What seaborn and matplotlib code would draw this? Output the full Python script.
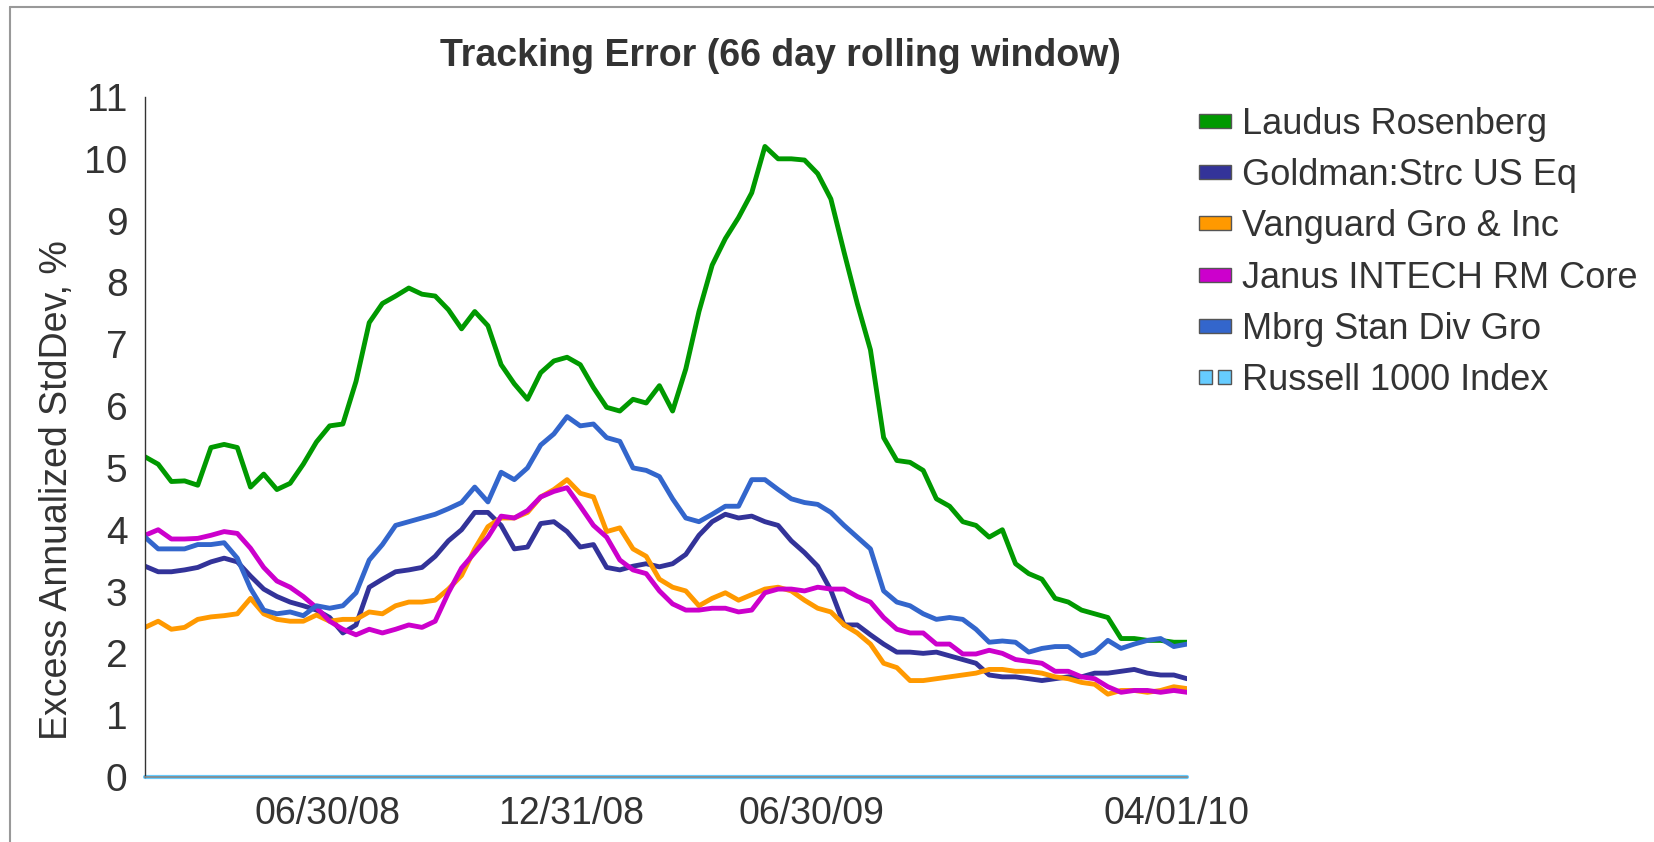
import pandas as pd
import matplotlib
matplotlib.use("Agg")
import matplotlib.pyplot as plt
import matplotlib.dates as mdates
import matplotlib.transforms as mtransforms
from matplotlib.patches import Patch
from matplotlib.lines import Line2D
from matplotlib.legend_handler import HandlerTuple
import seaborn as sns

# 66-day rolling tracking error, every ~10 calendar days
start, end = "2008-02-05", "2010-04-01"
n_points = 80

laudus = [5.18, 5.06, 4.78, 4.79, 4.72, 5.33, 5.38, 5.33, 4.69, 4.90,
          4.65, 4.75, 5.06, 5.42, 5.68, 5.71, 6.40, 7.35, 7.66, 7.78,
          7.91, 7.81, 7.78, 7.56, 7.25, 7.53, 7.30, 6.67, 6.36, 6.11,
          6.54, 6.73, 6.79, 6.67, 6.30, 5.98, 5.92, 6.11, 6.05, 6.33,
          5.92, 6.60, 7.53, 8.28, 8.71, 9.05, 9.45, 10.20, 10.00, 10.00,
          9.98, 9.76, 9.35, 8.49, 7.66, 6.91, 5.49, 5.12, 5.09, 4.96,
          4.50, 4.38, 4.13, 4.07, 3.88, 4.00, 3.45, 3.29, 3.20, 2.89,
          2.83, 2.70, 2.64, 2.58, 2.24, 2.24, 2.21, 2.21, 2.18, 2.18]
goldman = [3.41, 3.32, 3.32, 3.35, 3.39, 3.48, 3.54, 3.48, 3.25, 3.04,
           2.92, 2.83, 2.77, 2.70, 2.58, 2.33, 2.46, 3.07, 3.20, 3.32,
           3.35, 3.39, 3.57, 3.82, 4.00, 4.28, 4.28, 4.07, 3.69, 3.72,
           4.10, 4.13, 3.97, 3.72, 3.76, 3.39, 3.35, 3.41, 3.45, 3.40,
           3.45, 3.60, 3.91, 4.13, 4.25, 4.19, 4.22, 4.13, 4.07, 3.82,
           3.63, 3.41, 3.02, 2.46, 2.46, 2.30, 2.15, 2.02, 2.02, 2.00,
           2.02, 1.96, 1.90, 1.84, 1.65, 1.62, 1.62, 1.59, 1.56, 1.59,
           1.62, 1.62, 1.68, 1.68, 1.71, 1.74, 1.68, 1.65, 1.65, 1.59]
vanguard = [2.42, 2.52, 2.39, 2.42, 2.55, 2.59, 2.61, 2.64, 2.89, 2.64,
            2.55, 2.52, 2.52, 2.62, 2.52, 2.55, 2.55, 2.67, 2.64, 2.77,
            2.83, 2.83, 2.86, 3.04, 3.26, 3.69, 4.05, 4.19, 4.19, 4.28,
            4.53, 4.65, 4.81, 4.59, 4.53, 3.97, 4.03, 3.69, 3.57, 3.20,
            3.07, 3.01, 2.77, 2.89, 2.98, 2.86, 2.95, 3.04, 3.07, 3.01,
            2.86, 2.73, 2.67, 2.46, 2.33, 2.15, 1.84, 1.77, 1.56, 1.56,
            1.59, 1.62, 1.65, 1.68, 1.74, 1.74, 1.71, 1.71, 1.68, 1.62,
            1.59, 1.53, 1.50, 1.34, 1.40, 1.40, 1.37, 1.40, 1.46, 1.43]
janus = [3.91, 4.00, 3.85, 3.85, 3.86, 3.91, 3.97, 3.94, 3.70, 3.39,
         3.17, 3.07, 2.92, 2.74, 2.52, 2.39, 2.30, 2.39, 2.33, 2.39,
         2.46, 2.42, 2.52, 2.98, 3.38, 3.63, 3.88, 4.22, 4.19, 4.31,
         4.53, 4.62, 4.68, 4.38, 4.07, 3.88, 3.51, 3.35, 3.29, 3.01,
         2.80, 2.70, 2.70, 2.73, 2.73, 2.67, 2.70, 2.98, 3.04, 3.04,
         3.01, 3.07, 3.04, 3.04, 2.92, 2.83, 2.58, 2.39, 2.33, 2.33,
         2.15, 2.15, 1.99, 1.99, 2.05, 2.00, 1.90, 1.87, 1.84, 1.71,
         1.71, 1.62, 1.59, 1.46, 1.37, 1.40, 1.40, 1.37, 1.40, 1.37]
morgan = [3.88, 3.69, 3.69, 3.69, 3.76, 3.76, 3.79, 3.54, 3.05, 2.70,
          2.64, 2.67, 2.61, 2.77, 2.73, 2.77, 2.98, 3.51, 3.76, 4.07,
          4.13, 4.19, 4.25, 4.34, 4.44, 4.69, 4.45, 4.93, 4.81, 5.00,
          5.37, 5.55, 5.83, 5.68, 5.71, 5.49, 5.43, 5.00, 4.96, 4.86,
          4.50, 4.19, 4.13, 4.25, 4.38, 4.38, 4.81, 4.81, 4.65, 4.50,
          4.44, 4.41, 4.28, 4.07, 3.88, 3.69, 3.01, 2.83, 2.77, 2.64,
          2.55, 2.58, 2.55, 2.39, 2.18, 2.20, 2.18, 2.02, 2.08, 2.11,
          2.11, 1.96, 2.02, 2.21, 2.08, 2.15, 2.21, 2.24, 2.11, 2.15]
russell = [0.0, 0.0]

funds = ["Laudus Rosenberg", "Goldman:Strc US Eq", "Vanguard Gro & Inc",
         "Janus INTECH RM Core", "Mbrg Stan Div Gro"]
colors = ["#009900", "#333399", "#FF9900", "#CC00CC", "#3366CC"]
russell_name = "Russell 1000 Index"
russell_color = "#66CCFF"
tick_dates = ["2008-06-30", "2008-12-31", "2009-06-30", "2010-04-01"]

dates = pd.date_range(start, end, periods=n_points)
df = pd.DataFrame(dict(zip(funds, [laudus, goldman, vanguard, janus, morgan])), index=dates)
long_df = df.reset_index(names="date").melt(id_vars="date", var_name="fund", value_name="te")
russ = pd.DataFrame({"date": pd.to_datetime([start, end]), "te": russell})

sns.set_theme(style="white")
plt.rcParams["font.family"] = ["Liberation Sans", "DejaVu Sans"]
txt = "#333333"

fig = plt.figure(figsize=(16.54, 8.42), dpi=100)
ax = fig.add_axes([145 / 1654, 65 / 842, 1042 / 1654, 680 / 842])

sns.lineplot(data=long_df, x="date", y="te", hue="fund", hue_order=funds,
             palette=colors, linewidth=3.5, estimator=None, legend=False, ax=ax)
sns.lineplot(data=russ, x="date", y="te", color=russell_color, linewidth=3,
             legend=False, ax=ax)
ax.lines[-1].set_clip_on(False)

ax.set_xlim(dates[0], dates[-1])
ax.set_ylim(0, 11)
ax.set_yticks(range(0, 12))
ax.set_xticks(pd.to_datetime(tick_dates))
ax.xaxis.set_major_formatter(mdates.DateFormatter("%m/%d/%y"))
ax.tick_params(axis="both", direction="out", length=8.6, width=1,
               color="#888888", labelcolor=txt)
ax.tick_params(axis="y", labelsize=28, pad=4)
ax.tick_params(axis="x", labelsize=27, pad=5)
# date labels sit slightly left of their ticks in the original
shift = mtransforms.ScaledTranslation(-0.11, 0, fig.dpi_scale_trans)
for lab in ax.get_xticklabels():
    lab.set_transform(lab.get_transform() + shift)
for s in ["top", "right"]:
    ax.spines[s].set_visible(False)
ax.spines["left"].set_color("#333333")
ax.spines["left"].set_linewidth(1)
ax.spines["bottom"].set_color("#888888")
ax.set_xlabel("")
ax.set_ylabel("Excess Annualized StdDev, %", fontsize=27, color=txt)
ax.yaxis.set_label_coords(-0.067, 0.422)

fig.text(0.4716, 0.933, "Tracking Error (66 day rolling window)", ha="center",
         va="center", fontsize=27, fontweight="bold", color=txt)

handles = [Patch(facecolor=c, edgecolor="#555555", linewidth=1) for c in colors]
handles.append((Patch(facecolor=russell_color, edgecolor="#555555", linewidth=1),
                Patch(facecolor=russell_color, edgecolor="#555555", linewidth=1)))
leg = fig.legend(handles, funds + [russell_name], loc="upper left",
                 bbox_to_anchor=(1199 / 1654, 0.873), frameon=False, fontsize=26,
                 handlelength=0.88, handleheight=0.22, handletextpad=0.3,
                 labelspacing=0.45, borderpad=0, borderaxespad=0,
                 handler_map={tuple: HandlerTuple(ndivide=None, pad=0.15)})
for t in leg.get_texts():
    t.set_color(txt)

# thin grey frame along the left and top edges
fig.add_artist(Line2D([0.006, 0.006], [0, 0.9917], transform=fig.transFigure,
                      color="#999999", linewidth=1.5))
fig.add_artist(Line2D([0.006, 1], [0.9917, 0.9917], transform=fig.transFigure,
                      color="#999999", linewidth=1.5))

fig.savefig("out.png", dpi=100)
